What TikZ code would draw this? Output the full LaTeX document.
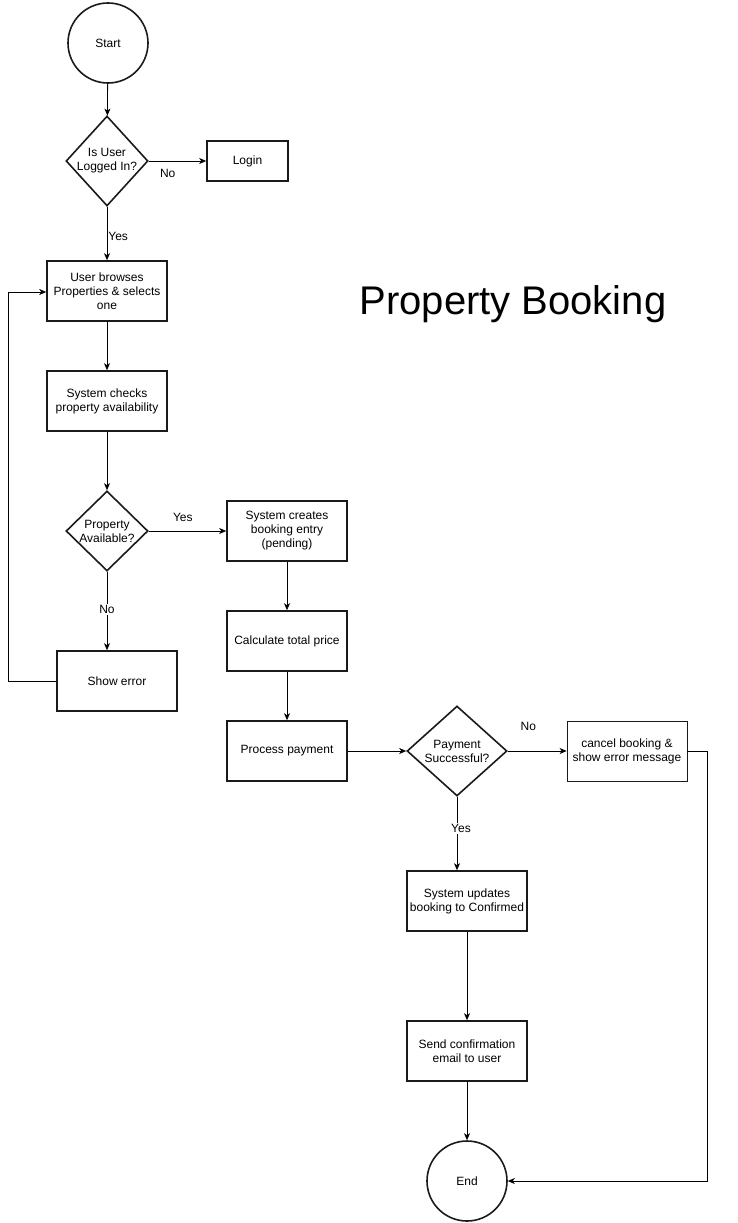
\documentclass[tikz,border=0pt]{standalone}
\usepackage{fontspec}
\setmainfont{Liberation Sans}
\usepackage{xcolor}
\usepackage{tikz}
\usetikzlibrary{positioning, arrows.meta, shapes.geometric}
\definecolor{ink}{HTML}{000000}
\definecolor{edge}{HTML}{1A1A1A}

\begin{document}
\begin{tikzpicture}[x=1pt, y=-1pt,
    txt/.style={font=\fontsize{12}{14}\selectfont, align=center, text=ink},
    proc/.style={txt, draw=edge, line width=1.6pt, minimum width=120, minimum height=60, inner sep=0},
    thinproc/.style={proc, line width=0.8pt},
    term/.style={txt, circle, draw=edge, line width=1.6pt, minimum size=80, inner sep=0},
    dec/.style={diamond, draw=edge, line width=1.6pt, inner sep=0},
    flow/.style={draw=ink, line width=0.8pt, -{Stealth[length=7pt, width=6pt, inset=2pt]}},
    lbl/.style={txt, inner sep=1pt},
    onlbl/.style={lbl, fill=white}]
  \useasboundingbox (0,0) rectangle (738,1223);

  \node[term] (start) at (108,43) {Start};
  \node[dec, minimum width=82, minimum height=90] (d1) at (107,161) {};
  \node[txt] at (d1) {Is User\\Logged In?};
  \node[proc, minimum width=81, minimum height=40] (login) at (247.5,161) {Login};
  \node[proc] (browse) at (107,291) {User browses\\Properties \& selects\\one};
  \node[proc] (check) at (107,401) {System checks\\property availability};
  \node[dec, minimum width=82, minimum height=80] (d2) at (107,531) {};
  \node[txt] at (d2) {Property\\Available?};
  \node[proc] (err) at (117,681) {Show error};
  \node[proc] (create) at (287,531) {System creates\\booking entry\\(pending)};
  \node[proc] (calc) at (287,641) {Calculate total price};
  \node[proc] (pay) at (287,751) {Process payment};
  \node[dec, minimum width=100, minimum height=90] (d3) at (457,751) {};
  \node[txt] at (d3) {Payment\\Successful?};
  \node[thinproc] (cancel) at (627,751) {cancel booking \&\\show error message};
  \node[proc] (upd) at (467,901) {System updates\\booking to Confirmed};
  \node[proc] (send) at (467,1051) {Send confirmation\\email to user};
  \node[term] (end) at (467,1181) {End};

  \node[font=\fontsize{40}{44}\selectfont, text=ink] (title) at (513,304) {Property Booking};

  \foreach \a/\b in {start/d1, browse/check, check/d2, create/calc, calc/pay, pay/d3, upd/send, send/end}
    \draw[flow] (\a) -- (\b);

  \draw[flow] (d1.east) -- node[lbl, pos=0.33, below=7pt] {No} (login.west);
  \draw[flow] (d1.south) -- node[lbl, pos=0.56, right] {Yes} (browse.north);
  \draw[flow] (d2.east) -- node[lbl, pos=0.44, above=8pt] {Yes} (create.west);
  \draw[flow] (d2.south) -- node[onlbl, pos=0.48] {No} (d2.south |- err.north);
  \draw[flow] (err.west) -| (8,292) -- (browse.west |- 0,292);
  \draw[flow] (d3.east) -- node[lbl, pos=0.35, above=19pt] {No} (cancel.west);
  \draw[flow] (d3.south) -- node[onlbl, pos=0.43, xshift=4pt] {Yes} (upd.north -| d3.south);
  \draw[flow] (cancel.east) -| (707,1181) -- (end.east);
\end{tikzpicture}
\end{document}
